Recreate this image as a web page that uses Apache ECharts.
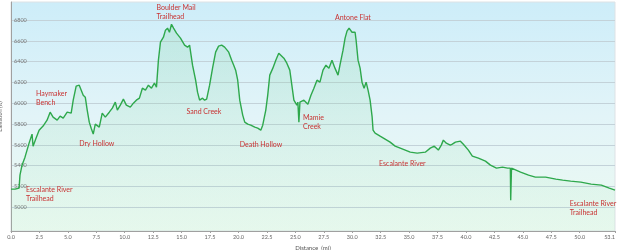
<!DOCTYPE html>
<html>
<head>
<meta charset="utf-8">
<script src="https://cdn.jsdelivr.net/npm/echarts@6/dist/echarts.min.js"></script>
<style>html,body{margin:0;padding:0;background:#fff}#c{width:618px;height:250px}</style>
</head>
<body>
<div id="c"></div>
<script>
// Distance (mi)
const distances = [0.0,0.35,0.71,0.79,0.97,1.23,1.41,1.59,1.85,1.94,2.20,2.47,2.82,3.17,3.44,3.70,4.06,4.32,4.59,4.94,5.29,5.47,5.73,6.00,6.17,6.35,6.53,6.70,6.88,7.05,7.23,7.41,7.58,7.76,8.02,8.29,8.64,8.91,9.17,9.35,9.61,9.88,10.14,10.49,10.76,11.02,11.29,11.55,11.82,12.08,12.35,12.61,12.79,12.96,13.14,13.40,13.58,13.76,13.93,14.11,14.29,14.55,14.90,15.26,15.52,15.70,15.96,16.23,16.40,16.58,16.84,17.02,17.20,17.46,17.72,17.99,18.25,18.52,18.78,19.14,19.40,19.58,19.75,19.93,20.11,20.37,20.55,20.81,21.08,21.43,21.69,21.96,22.13,22.40,22.57,22.75,23.02,23.28,23.54,23.72,23.99,24.25,24.51,24.69,24.87,25.13,25.22,25.31,25.40,25.75,26.10,26.37,26.63,26.90,27.16,27.43,27.69,27.95,28.22,28.48,28.75,28.92,29.19,29.37,29.54,29.72,29.98,30.25,30.34,30.51,30.69,30.86,31.04,31.22,31.39,31.57,31.75,31.83,32.01,32.45,32.89,33.33,33.77,34.22,35.10,35.71,36.42,36.86,37.21,37.57,37.83,38.01,38.27,38.62,38.80,39.07,39.51,39.77,40.21,40.56,41.09,41.71,42.15,42.68,43.21,43.65,43.90,43.93,44.00,44.80,45.50,46.10,47.00,47.90,48.50,49.20,50.10,51.00,51.90,52.60,53.10];
// Elevation (ft)
const elevations = [5173,5173,5183,5308,5404,5481,5549,5616,5703,5587,5664,5741,5780,5837,5914,5866,5837,5876,5857,5914,5905,6030,6165,6174,6155,6078,6059,5934,5818,5760,5703,5799,5809,5770,5905,5866,5914,5953,6011,5934,5982,6040,5982,5963,6001,6030,6049,6145,6126,6174,6145,6194,6155,6415,6588,6636,6704,6723,6684,6761,6723,6675,6627,6559,6540,6559,6367,6222,6107,6030,6049,6030,6040,6174,6338,6492,6550,6559,6540,6492,6415,6367,6319,6222,6030,5886,5818,5799,5789,5770,5760,5741,5789,5934,6078,6271,6338,6415,6482,6463,6434,6386,6319,6174,6030,5982,6011,5818,6011,6030,5991,6078,6145,6222,6203,6319,6367,6338,6415,6338,6271,6367,6511,6627,6694,6723,6684,6684,6607,6415,6338,6203,6145,6203,6126,6030,5866,5741,5712,5683,5655,5626,5587,5568,5529,5520,5529,5568,5587,5549,5597,5645,5616,5597,5606,5626,5635,5606,5549,5491,5472,5443,5404,5375,5385,5375,5375,5067,5375,5337,5308,5289,5289,5270,5260,5250,5241,5221,5212,5183,5164];
// Tick labels
const xTicks = [0,2.5,5,7.5,10,12.5,15,17.5,20,22.5,25,27.5,30,32.5,35,37.5,40,42.5,45,47.5,50,53.1];
const yTicks = [5000,5200,5400,5600,5800,6000,6200,6400,6600,6800];
// Place-name annotations (text anchor in data units: distance, elevation)
const annoNames = ['Boulder Mail\nTrailhead','Haymaker\nBench','Sand Creek','Dry Hollow','Escalante River\nTrailhead','Death Hollow','Mamie\nCreek','Antone Flat','Escalante River','Escalante River\nTrailhead'];
const annoDist = [12.79,2.20,15.43,6.00,1.32,20.11,25.66,28.48,32.36,49.12];
const annoElev = [6959,6131,5958,5650,5207,5640,5900,6863,5457,5072];

const chart = echarts.init(document.getElementById('c'), null, {renderer:'canvas'});
const lineData = distances.map((d,i)=>[d, elevations[i]]);
const annoData = annoNames.map((n,i)=>[annoDist[i], annoElev[i], i]);
const G = echarts.graphic;
chart.setOption({
  animation:false,
  backgroundColor:'#ffffff',
  grid:{left:11,right:3,top:2,bottom:19,containLabel:false,outerBoundsMode:'none',show:true,borderColor:'#dde2e5',borderWidth:1,
    backgroundColor:new G.LinearGradient(0,0,0,1,[{offset:0,color:'#cdedf9'},{offset:0.5,color:'#e2f4f8'},{offset:1,color:'#ecfaf1'}])},
  xAxis:{type:'value',min:0,max:53.1,
    name:'Distance  (mi)',nameLocation:'middle',nameGap:11,nameTextStyle:{fontSize:6,color:'#555',fontFamily:'Lato'},
    axisLine:{show:true,lineStyle:{color:'#a0a0a0'}},
    axisTick:{show:true,length:2,customValues:xTicks,lineStyle:{color:'#a0a0a0'}},
    axisLabel:{customValues:xTicks,fontSize:5.5,color:'#666',margin:3,fontFamily:'Lato',alignMaxLabel:'right',formatter:v=>v.toFixed(1)},
    splitLine:{show:false}},
  yAxis:{type:'value',min:4770,max:6975,
    name:'Elevation (ft)',nameLocation:'middle',nameGap:0,nameRotate:90,nameTextStyle:{fontSize:5.5,color:'#555',fontFamily:'Lato',verticalAlign:'bottom'},
    axisLine:{show:true,lineStyle:{color:'#a0a0a0'}},
    axisTick:{show:false,customValues:yTicks},
    axisLabel:{inside:true,customValues:yTicks,fontSize:5.5,color:'#777',margin:3,fontFamily:'Lato',formatter:v=>String(v)},
    splitLine:{show:true,lineStyle:{color:'#c3d2d9',width:1}}},
  series:[
    {type:'line',data:lineData,symbol:'none',smooth:false,
      lineStyle:{color:'#2ea84c',width:1.4},
      areaStyle:{origin:'start',color:new G.LinearGradient(0,0,0,1,[{offset:0,color:'rgba(110,205,140,0.28)'},{offset:1,color:'rgba(150,225,175,0.10)'}])},
      z:3},
    {type:'custom',data:annoData,silent:true,z:5,
      renderItem:function(params, api){
        const p = api.coord([api.value(0), api.value(1)]);
        return {type:'text',x:p[0],y:p[1],
          style:{text:annoNames[api.value(2)],fill:'#c83232',fontSize:7,lineHeight:9,fontFamily:'Lato',align:'left',verticalAlign:'top'}};
      }}
  ]
});
</script>
</body>
</html>
